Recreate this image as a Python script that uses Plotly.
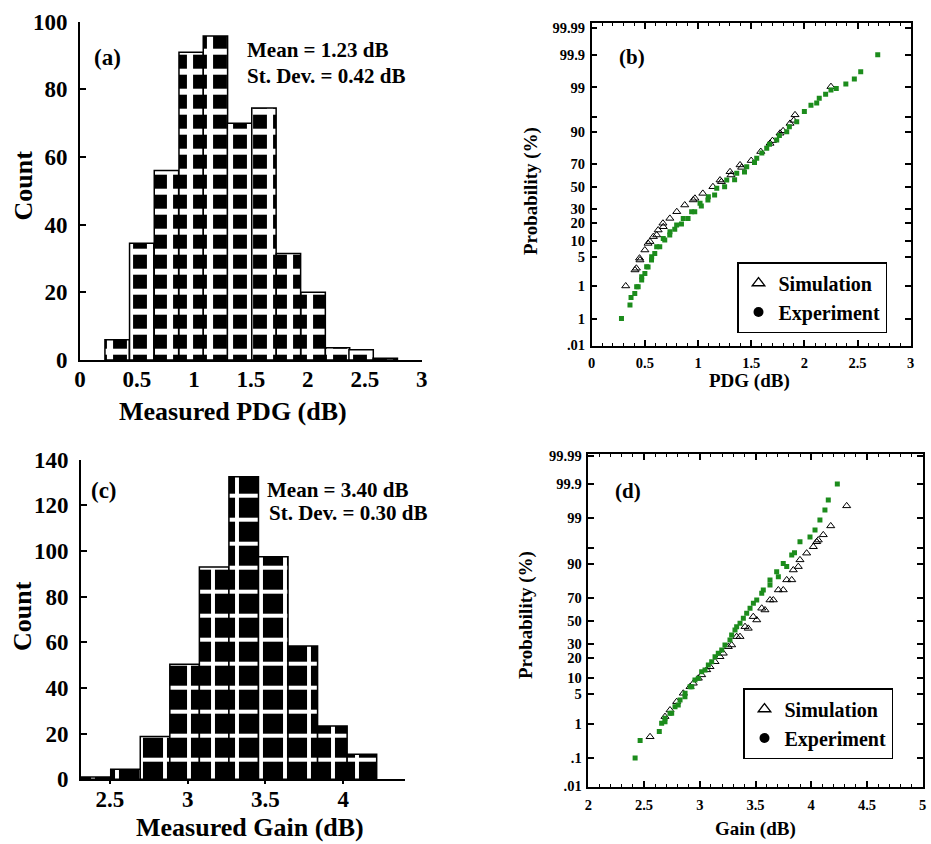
import plotly.graph_objects as go
from statistics import NormalDist

# ---------------- data ----------------
# (a) histogram of measured PDG
pdg_bin_centers = [0.326, 0.542, 0.759, 0.976, 1.189, 1.401, 1.615, 1.830, 2.047, 2.261, 2.468, 2.680]
pdg_counts = [6, 34.5, 56, 91, 95.8, 70, 74.5, 31.5, 20, 3.6, 3, 0.5]
pdg_bin_width = 0.214

# (c) histogram of measured gain
gain_bin_centers = [2.41, 2.60, 2.79, 2.98, 3.17, 3.36, 3.55, 3.74, 3.93, 4.12]
gain_counts = [1, 4.4, 18.7, 50.4, 93, 132.5, 97.5, 58.4, 23.4, 11]
gain_bin_width = 0.19

# (b) probability plot of PDG (x in dB, cumulative probability in %)
pdg_sim_x = [0.32, 0.407, 0.42, 0.45, 0.454, 0.50, 0.53, 0.548, 0.58, 0.611,
             0.625, 0.67, 0.673, 0.735, 0.80, 0.875, 0.955, 0.971, 1.045, 1.14,
             1.207, 1.22, 1.301, 1.31, 1.395, 1.41, 1.50, 1.59, 1.677, 1.70,
             1.771, 1.80, 1.865, 1.90, 1.912, 2.25]
pdg_sim_p = [1.0, 2.55, 2.8, 4.7, 4.29, 6.9, 9.2, 9.9, 12.1, 12.9,
             15.5, 19.6, 17.4, 22.9, 27.9, 33.4, 37.8, 39.3, 43.8, 50.0,
             56.2, 54.7, 63.7, 60.8, 69.5, 67.5, 73.0, 79.5, 84.5, 86.0,
             89.5, 90.5, 93.1, 94.0, 95.4, 99.05]
pdg_exp_x = [0.28, 0.36, 0.37, 0.405, 0.423, 0.437, 0.47, 0.47, 0.50, 0.517,
             0.53, 0.5625, 0.564, 0.593, 0.611, 0.64, 0.673, 0.687, 0.734, 0.736,
             0.781, 0.799, 0.844, 0.861, 0.906, 0.940, 0.969, 1.019, 1.031, 1.093,
             1.097, 1.156, 1.176, 1.25, 1.270, 1.344, 1.364, 1.437, 1.458, 1.531,
             1.552, 1.60, 1.646, 1.672, 1.740, 1.765, 1.834, 1.859, 1.928, 2.0,
             2.062, 2.116, 2.14, 2.20, 2.25, 2.30, 2.39, 2.47, 2.53, 2.69]
pdg_exp_p = [0.1, 0.28, 0.47, 0.62, 0.95, 0.95, 1.45, 1.75, 2.1, 3.04,
             3.0, 4.3, 5.05, 5.9, 8.0, 8.0, 11.3, 10.6, 12.9, 14.6,
             15.9, 18.5, 19.1, 22.9, 22.9, 27.9, 27.9, 34.9, 32.6, 37.8,
             40.7, 42.3, 48.5, 50.0, 56.2, 56.5, 62.3, 63.5, 68.0, 71.5,
             74.7, 78.5, 81.6, 84.0, 86.3, 88.5, 90.1, 92.0, 93.6, 96.1,
             97.2, 97.5, 98.1, 98.5, 98.83, 98.94, 99.2, 99.42, 99.65, 99.9]

# (d) probability plot of gain
gain_sim_x = [2.554, 2.688, 2.733, 2.793, 2.852, 2.913, 2.942, 2.987, 3.017, 3.062,
              3.092, 3.137, 3.181, 3.211, 3.256, 3.286, 3.331, 3.361, 3.406, 3.435,
              3.480, 3.511, 3.556, 3.585, 3.630, 3.66, 3.705, 3.749, 3.780, 3.825,
              3.839, 3.884, 3.899, 3.959, 4.019, 4.049, 4.063, 4.108, 4.175, 4.318]
gain_sim_p = [0.45, 1.55, 2.23, 3.44, 5.15, 6.9, 8.0, 9.8, 11.2, 13.5,
              15.1, 17.9, 21.0, 23.3, 28.1, 29.4, 36.2, 36.2, 44.9, 43.4,
              53.9, 50.9, 61.3, 59.8, 68.2, 68.2, 75.8, 75.8, 82.3, 82.3,
              87.5, 89.0, 91.6, 93.7, 95.3, 96.3, 96.6, 97.4, 98.4, 99.53]
gain_exp_x = [2.42, 2.465, 2.637, 2.658, 2.688, 2.688, 2.733, 2.748, 2.778, 2.807,
              2.823, 2.867, 2.868, 2.913, 2.928, 2.957, 2.987, 3.017, 3.047, 3.077,
              3.107, 3.137, 3.166, 3.197, 3.226, 3.271, 3.286, 3.316, 3.331, 3.361,
              3.391, 3.421, 3.451, 3.481, 3.511, 3.556, 3.570, 3.63, 3.63, 3.69,
              3.705, 3.749, 3.78, 3.825, 3.85, 3.899, 3.989, 4.034, 4.078, 4.123,
              4.153, 4.234]
gain_exp_p = [0.1, 0.35, 0.63, 1.05, 1.15, 1.41, 1.87, 1.87, 2.66, 2.9,
              3.74, 4.38, 5.15, 6.9, 6.9, 9.2, 9.8, 12.6, 13.5, 16.0,
              17.9, 21.0, 23.3, 25.6, 29.4, 33.4, 37.6, 42.0, 44.9, 47.9,
              52.4, 56.9, 61.3, 65.5, 68.2, 73.4, 75.8, 79.2, 82.3, 86.7,
              84.1, 90.3, 89.0, 93.2, 93.8, 96.3, 97.1, 98.0, 98.86, 99.39,
              99.68, 99.9]

# probability-axis ticks
prob_ticks = [0.01, 0.1, 1, 5, 10, 20, 30, 50, 70, 90, 95, 99, 99.9, 99.99]
prob_labels_b = [".01", "1", "1", "5", "10", "20", "30", "50", "70", "90", "", "99", "99.9", "99.99"]
prob_labels_d = [".01", ".1", "1", "5", "10", "20", "30", "50", "70", "90", "", "99", "99.9", "99.99"]

# ---------------- helpers ----------------
W, H = 931, 844
ND = NormalDist()


def probit(values):
    return [ND.inv_cdf(v / 100.0) for v in values]


def fx(px):
    return px / W


def fy(py):
    return 1 - py / H


FONT = "Liberation Serif"
GREEN = "#1c8c1c"

fig = go.Figure()

# (a) histogram
fig.add_trace(go.Bar(
    x=pdg_bin_centers, y=pdg_counts, width=pdg_bin_width,
    xaxis="x", yaxis="y", showlegend=False,
    marker=dict(color="black", line=dict(color="black", width=1.5),
                pattern=dict(shape="+", bgcolor="black", fgcolor="white",
                             size=20, solidity=0.52, fillmode="replace")),
))

# (c) histogram
fig.add_trace(go.Bar(
    x=gain_bin_centers, y=gain_counts, width=gain_bin_width,
    xaxis="x3", yaxis="y3", showlegend=False,
    marker=dict(color="black", line=dict(color="black", width=1.5),
                pattern=dict(shape="+", bgcolor="black", fgcolor="white",
                             size=24, solidity=0.3, fillmode="replace")),
))

SIM_MARK = dict(symbol="triangle-up-open", size=7, color="black", line=dict(width=1))
EXP_MARK = dict(symbol="square", size=5, color=GREEN)
LEG_SIM = dict(symbol="triangle-up-open", size=11, color="black", line=dict(width=1.3))
LEG_EXP = dict(symbol="circle", size=10, color="black")

# (b) probability plot
fig.add_trace(go.Scatter(x=pdg_sim_x, y=probit(pdg_sim_p), mode="markers",
                         xaxis="x2", yaxis="y2", showlegend=False, marker=SIM_MARK))
fig.add_trace(go.Scatter(x=pdg_exp_x, y=probit(pdg_exp_p), mode="markers",
                         xaxis="x2", yaxis="y2", showlegend=False, marker=EXP_MARK))
fig.add_trace(go.Scatter(x=[None], y=[None], mode="markers", xaxis="x2", yaxis="y2",
                         name="Simulation", legend="legend", marker=LEG_SIM))
fig.add_trace(go.Scatter(x=[None], y=[None], mode="markers", xaxis="x2", yaxis="y2",
                         name="Experiment", legend="legend", marker=LEG_EXP))

# (d) probability plot
fig.add_trace(go.Scatter(x=gain_sim_x, y=probit(gain_sim_p), mode="markers",
                         xaxis="x4", yaxis="y4", showlegend=False, marker=SIM_MARK))
fig.add_trace(go.Scatter(x=gain_exp_x, y=probit(gain_exp_p), mode="markers",
                         xaxis="x4", yaxis="y4", showlegend=False, marker=EXP_MARK))
fig.add_trace(go.Scatter(x=[None], y=[None], mode="markers", xaxis="x4", yaxis="y4",
                         name="Simulation", legend="legend2", marker=LEG_SIM))
fig.add_trace(go.Scatter(x=[None], y=[None], mode="markers", xaxis="x4", yaxis="y4",
                         name="Experiment", legend="legend2", marker=LEG_EXP))

hist_tick_font = dict(family=FONT, size=23, color="black", weight="bold")
prob_tick_font = dict(family=FONT, size=14.5, color="black", weight="bold")

common_hist = dict(showgrid=False, zeroline=False, showline=True, linecolor="black",
                   linewidth=2, tickfont=hist_tick_font, automargin=False)
common_prob = dict(showgrid=False, zeroline=False, showline=True, linecolor="black",
                   linewidth=1.5, mirror="ticks", ticks="inside", ticklen=6,
                   tickwidth=1.5, tickcolor="black", tickfont=prob_tick_font,
                   automargin=False)

prob_minor = dict(dtick=0.1, ticks="inside", ticklen=3, tickwidth=1, tickcolor="black")

legend_style = dict(xanchor="left", yanchor="top", bgcolor="white",
                    bordercolor="black", borderwidth=1.5,
                    font=dict(family=FONT, size=20, color="black", weight="bold"),
                    itemsizing="trace", tracegroupgap=0)

fig.update_layout(
    width=W, height=H,
    margin=dict(l=0, r=0, t=0, b=0, autoexpand=False),
    paper_bgcolor="white", plot_bgcolor="white",
    font=dict(family=FONT, color="black", weight="bold"),
    # (a)
    xaxis=dict(domain=[fx(80), fx(421.7)], range=[0, 3], dtick=0.5, ticks="",
               anchor="y", ticklabelstandoff=-3, **common_hist),
    yaxis=dict(domain=[fy(360), fy(21.7)], range=[0, 100], dtick=20, ticks="inside",
               ticklen=6, tickwidth=2, tickcolor="black", anchor="x",
               ticklabelstandoff=6, **common_hist),
    # (b)
    xaxis2=dict(domain=[fx(591.7), fx(910.7)], range=[0, 3], dtick=0.5, anchor="y2",
                minor=prob_minor, ticklabelstandoff=3, **common_prob),
    yaxis2=dict(domain=[fy(345.7), fy(23.3)], range=[-3.726, 3.83],
                tickmode="array", tickvals=probit(prob_ticks), ticktext=prob_labels_b,
                anchor="x2", ticklabelstandoff=2, **common_prob),
    # (c)
    xaxis3=dict(domain=[fx(81), fx(405)], range=[2.314, 4.397], tick0=2.5, dtick=0.5,
                ticks="outside", ticklen=3, tickwidth=2, tickcolor="black",
                anchor="y3", ticklabelstandoff=-5, **common_hist),
    yaxis3=dict(domain=[fy(779.3), fy(459.7)], range=[0, 140], dtick=20, ticks="inside",
                ticklen=6, tickwidth=2, tickcolor="black", anchor="x3",
                ticklabelstandoff=6, **common_hist),
    # (d)
    xaxis4=dict(domain=[fx(588.3), fx(922.7)], range=[2, 5], dtick=0.5, anchor="y4",
                minor=prob_minor, ticklabelstandoff=4, **common_prob),
    yaxis4=dict(domain=[fy(786.7), fy(454.3)], range=[-3.738, 3.76],
                tickmode="array", tickvals=probit(prob_ticks), ticktext=prob_labels_d,
                anchor="x4", ticklabelstandoff=2, **common_prob),
    legend=dict(x=fx(737), y=fy(262), **legend_style),
    legend2=dict(x=fx(743), y=fy(688), **legend_style),
)


def note(text, px, py, size, xanchor="left", angle=0):
    fig.add_annotation(text=text, x=fx(px), y=fy(py), xref="paper", yref="paper",
                       xanchor=xanchor, yanchor="middle", showarrow=False,
                       textangle=angle,
                       font=dict(family=FONT, size=size, color="black", weight="bold"))


# panel labels and statistics
note("(a)", 107, 57, 23, "center")
note("Mean = 1.23 dB", 245, 50, 21)
note("St. Dev. = 0.42 dB", 245, 75.5, 21)
note("(b)", 631.7, 57.5, 21, "center")
note("(c)", 104, 490, 23, "center")
note("Mean = 3.40 dB", 265, 490, 21)
note("St. Dev. = 0.30 dB", 266.7, 513.3, 21)
note("(d)", 628, 491, 21, "center")

# axis titles
note("Count", 22.5, 186, 26, "center", -90)
note("Measured PDG (dB)", 233, 411, 26, "center")
note("Count", 22, 616, 26, "center", -90)
note("Measured Gain (dB)", 250, 827, 26, "center")
note("Probability (%)", 531, 191, 19, "center", -90)
note("PDG (dB)", 749, 381, 19, "center")
note("Probability (%)", 526, 615, 19, "center", -90)
note("Gain (dB)", 755, 829, 19, "center")

fig.write_html("out.html",
               config={"displayModeBar": False},
               post_script="document.body.style.margin='0px';"
                           "document.body.style.padding='0px';")
